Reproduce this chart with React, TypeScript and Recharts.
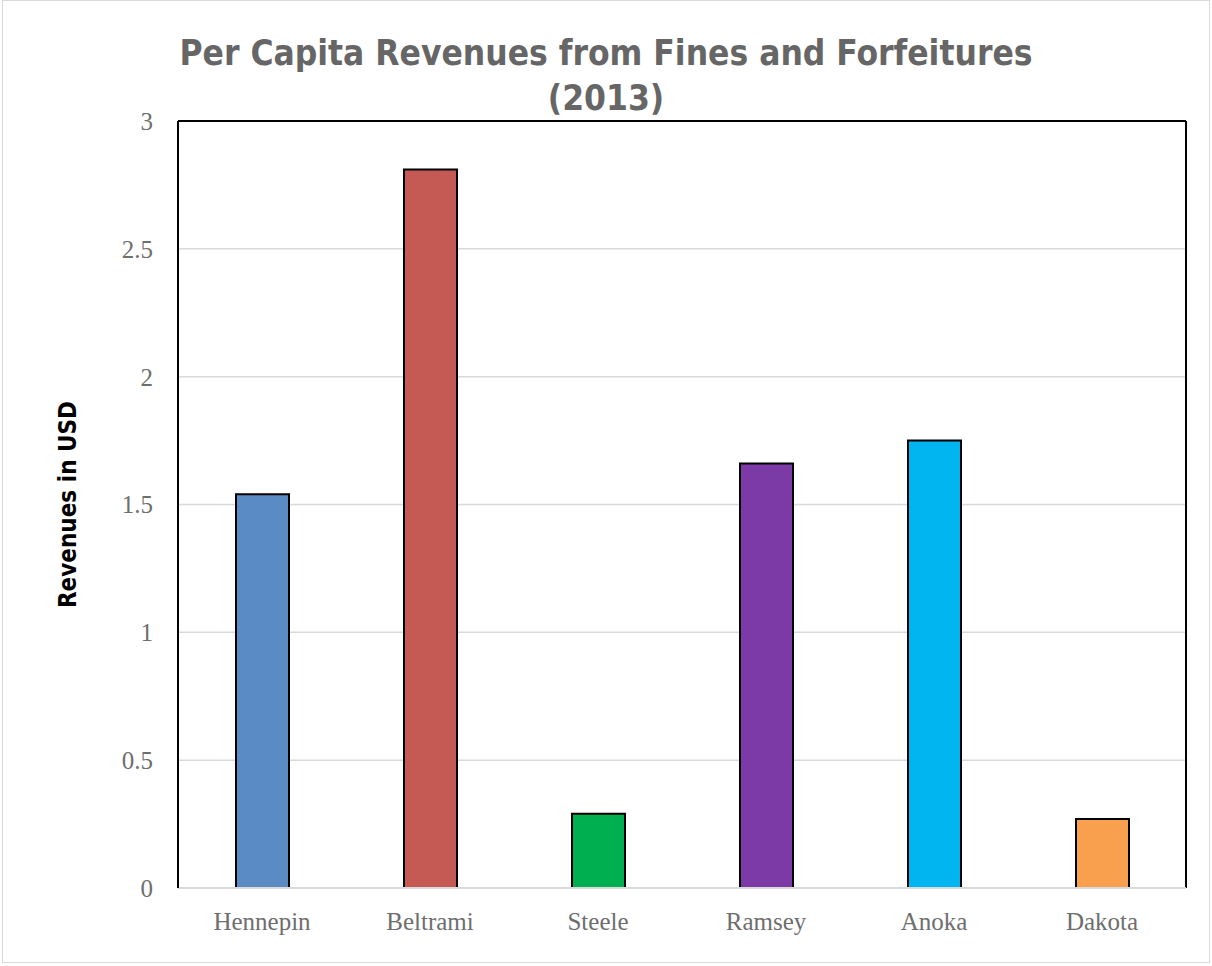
import React from "react";
import { BarChart, Bar, XAxis, YAxis, CartesianGrid, Cell, ReferenceLine } from "recharts";

const counties = ["Hennepin", "Beltrami", "Steele", "Ramsey", "Anoka", "Dakota"];
const revenues = [1.54, 2.81, 0.29, 1.66, 1.75, 0.27];
const barColors = ["#5B8BC5", "#C55A55", "#00B050", "#7B3AA6", "#00B5F0", "#F9A04F"];
const yTicks = [0, 0.5, 1, 1.5, 2, 2.5, 3];

const data = counties.map((name, i) => ({ name, value: revenues[i] }));

const serif = "'Liberation Serif', 'DejaVu Serif', serif";
const narrow = "'Liberation Sans Narrow', 'DejaVu Sans Condensed', 'Roboto Condensed', sans-serif";

export default function App() {
  return (
    <div style={{ position: "absolute", left: 0, top: 0, width: 1212, height: 966, background: "#fff" }}>
      <div style={{ position: "absolute", left: 2, top: 0, width: 1208, height: 963, border: "1px solid #d9d9d9", boxSizing: "border-box" }} />
      <svg width={1212} height={130} style={{ position: "absolute", left: 0, top: 0 }}>
        <text x={606} y={65} textAnchor="middle" fontFamily={narrow} fontWeight="bold" fontSize={35} fill="#666666">
          Per Capita Revenues from Fines and Forfeitures
        </text>
        <text x={606} y={110} textAnchor="middle" fontFamily={narrow} fontWeight="bold" fontSize={35} fill="#666666">
          (2013)
        </text>
      </svg>
      <div style={{ position: "absolute", left: 0, top: 0 }}>
        <BarChart width={1212} height={966} data={data} margin={{ top: 121, right: 26, left: 0, bottom: 0 }}>
          <CartesianGrid horizontal vertical={false} stroke="#d9d9d9" strokeWidth={1.5} />
          <XAxis
            dataKey="name"
            height={78}
            tickSize={0}
            tickMargin={24}
            tickLine={false}
            axisLine={{ stroke: "#d9d9d9", strokeWidth: 2 }}
            tick={{ fontFamily: serif, fontSize: 25, fill: "#6e6e6e" }}
          />
          <YAxis
            width={178}
            domain={[0, 3]}
            ticks={yTicks}
            interval={0}
            tickSize={0}
            tickMargin={25}
            tickLine={false}
            axisLine={{ stroke: "#000", strokeWidth: 2 }}
            tick={{ fontFamily: serif, fontSize: 25, fill: "#6e6e6e" }}
            label={{
              value: "Revenues in USD",
              angle: -90,
              position: "insideLeft",
              offset: 67,
              style: { fontFamily: narrow, fontWeight: "bold", fontSize: 24, fill: "#000", textAnchor: "middle" },
            }}
          />
          <ReferenceLine y={3} stroke="#000" strokeWidth={2} />
          <ReferenceLine x="Dakota" position="end" stroke="#000" strokeWidth={2} />
          <Bar dataKey="value" barSize={53} stroke="#000" strokeWidth={2} isAnimationActive={false}>
            {data.map((d, i) => (
              <Cell key={d.name} fill={barColors[i]} />
            ))}
          </Bar>
        </BarChart>
      </div>
    </div>
  );
}
